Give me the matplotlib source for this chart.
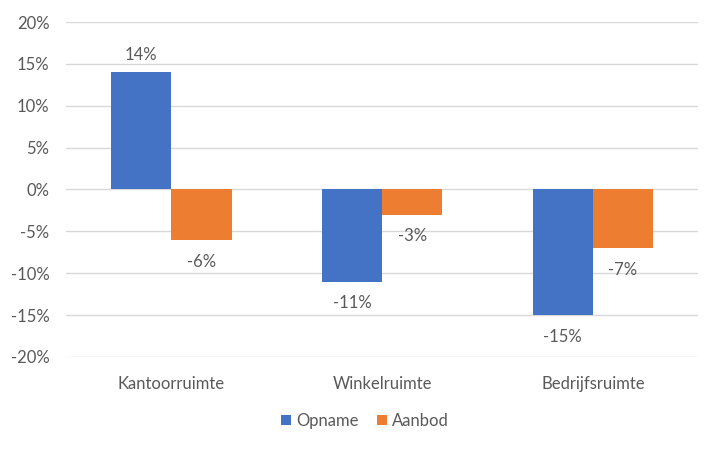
import matplotlib.pyplot as plt
import numpy as np

# Datos
categories = ["Kantoorruimte", "Winkelruimte", "Bedrijfsruimte"]
opname = [14, -11, -15]
aanbod = [-6, -3, -7]
series_names = ["Opname", "Aanbod"]

plt.rcParams['font.family'] = ['Lato', 'DejaVu Sans']
text_col = "#595959"
fs = 12

fig = plt.figure(figsize=(7.19, 4.5), dpi=100)
ax = fig.add_axes([0.092, 0.207, 0.879, 0.744])

x = np.arange(len(categories))
w = 0.286
b1 = ax.bar(x - w/2, opname, w, color="#4472C4", label=series_names[0], zorder=3)
b2 = ax.bar(x + w/2, aanbod, w, color="#ED7D31", label=series_names[1], zorder=3)

ax.set_xlim(-0.5, len(categories) - 0.5)
ax.set_ylim(-20, 20)
ax.set_yticks(range(-20, 21, 5))
ax.set_yticklabels([f"{v}%" for v in range(-20, 21, 5)])
ax.set_xticks(x)
ax.set_xticklabels(categories)
ax.yaxis.grid(True, color="#D9D9D9", lw=1, zorder=0)
for s in ax.spines.values():
    s.set_visible(False)
ax.tick_params(length=0, labelsize=fs, labelcolor=text_col)
ax.tick_params(axis="y", pad=12)
ax.tick_params(axis="x", pad=14)

for bars, vals in ((b1, opname), (b2, aanbod)):
    for b, v in zip(bars, vals):
        off = 7 if v > 0 else -10
        ax.annotate(f"{v}%", (b.get_x() + b.get_width()/2, v), xytext=(0, off),
                    textcoords="offset points", ha="center",
                    va="bottom" if v > 0 else "top", fontsize=fs, color=text_col)

leg = fig.legend(loc="center", bbox_to_anchor=(0.508, 0.065), ncol=2, frameon=False,
                 fontsize=fs, handlelength=0.6, handleheight=0.6, handletextpad=0.3,
                 columnspacing=1.1)
for t in leg.get_texts():
    t.set_color(text_col)

fig.savefig("out.png", dpi=100)
